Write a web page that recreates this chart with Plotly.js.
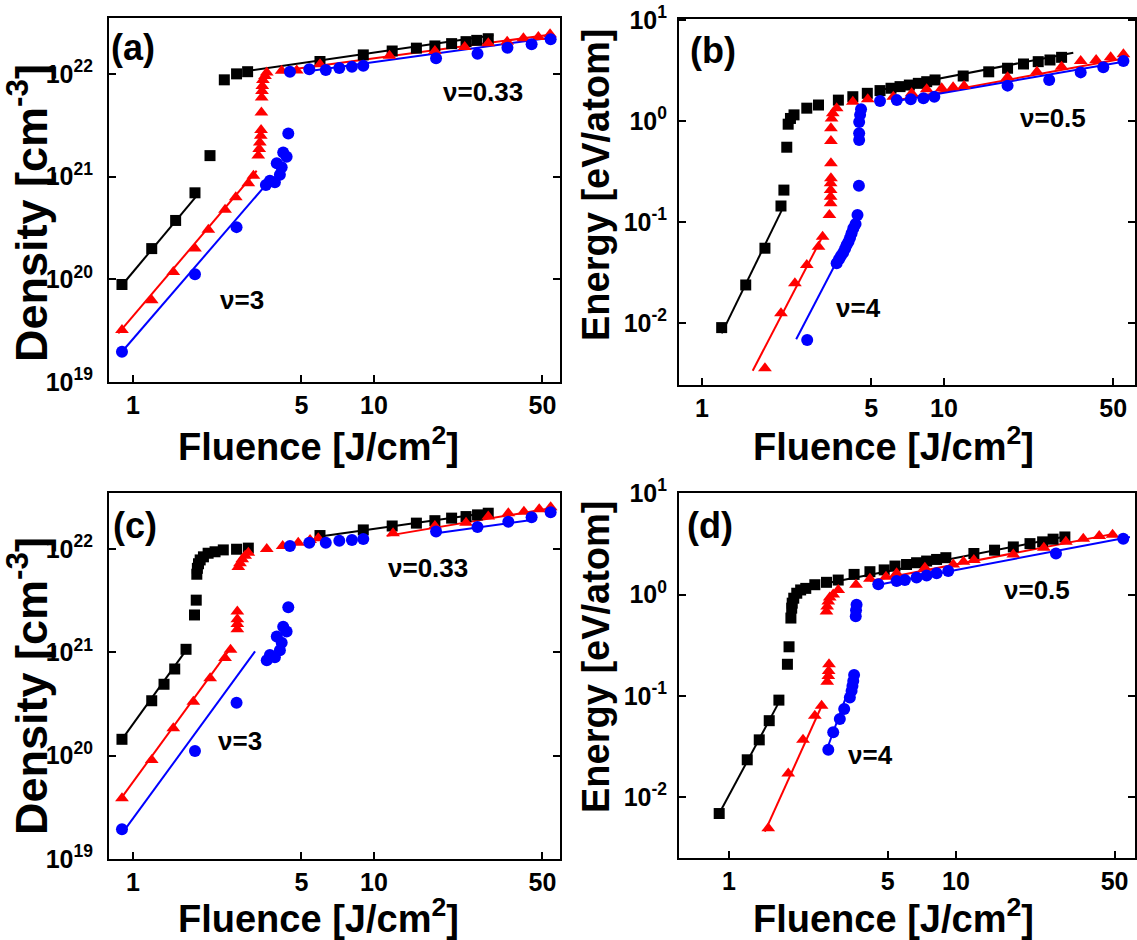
<!DOCTYPE html>
<html><head><meta charset="utf-8">
<script src="https://cdn.plot.ly/plotly-3.0.1.min.js"></script>
<style>html,body{margin:0;padding:0;background:#fff}#chart{width:1137px;height:940px}</style>
</head><body><div id="chart"></div>
<script>
// ---------- Panel (a): Density vs Fluence ----------
const aBlkX = [0.90, 1.196, 1.503, 1.808, 2.087, 2.393, 2.69, 2.99, 5.97, 9.03, 11.9, 15.0, 17.9, 21.0, 24.1, 26.7, 29.8];
const aBlkY = [8.9e19, 1.99e20, 3.74e20, 6.95e20, 1.6e21, 8.75e21, 1.0e22, 1.05e22, 1.32e22, 1.53e22, 1.67e22, 1.78e22, 1.87e22, 1.97e22, 2.06e22, 2.12e22, 2.2e22];
const aBlkFitLoX = [0.94, 1.878], aBlkFitLoY = [9.9e19, 6.9e20];
const aBlkFitHiX = [2.99, 31.3], aBlkFitHiY = [1.07e22, 2.38e22];
const aRedX = [0.90, 1.196, 1.47, 1.808, 2.054, 2.41, 2.67, 3.01, 3.16, 3.31, 3.34, 3.36, 3.39, 3.40, 3.41, 3.42, 3.43, 3.44, 3.46, 3.53, 3.59, 4.14, 4.78, 5.97, 11.6, 17.9, 23.8, 29.8, 35.7, 41.7, 48.1, 53.8];
const aRedY = [3.2e19, 6.25e19, 1.18e20, 1.99e20, 3.03e20, 4.75e20, 6.3e20, 8.6e20, 1.02e21, 1.6e21, 1.86e21, 2.15e21, 2.5e21, 2.84e21, 4.2e21, 5.9e21, 6.8e21, 7.6e21, 8.7e21, 9.55e21, 1.03e22, 1.07e22, 1.08e22, 1.24e22, 1.5e22, 1.67e22, 1.83e22, 1.99e22, 2.06e22, 2.22e22, 2.29e22, 2.43e22];
const aRedFitLoX = [0.869, 3.26], aRedFitLoY = [2.97e19, 1.14e21];
const aRedFitHiX = [4.14, 55.5], aRedFitHiY = [1.07e22, 2.43e22];
const aBluX = [0.90, 1.808, 2.69, 3.56, 3.70, 3.88, 4.07, 3.95, 4.14, 4.2, 4.34, 4.41, 4.48, 5.39, 6.31, 7.18, 8.1, 9.03, 18.1, 26.9, 35.8, 45.1, 54.1];
const aBluY = [1.97e19, 1.12e20, 3.22e20, 8.3e20, 9.1e20, 8.8e20, 1.04e21, 1.35e21, 1.23e21, 1.72e21, 1.56e21, 2.63e21, 1.05e22, 1.11e22, 1.09e22, 1.14e22, 1.17e22, 1.2e22, 1.42e22, 1.57e22, 1.8e22, 1.94e22, 2.17e22];
const aBluFitLoX = [0.90, 3.59], aBluFitLoY = [1.97e19, 8.5e20];
const aBluFitHiX = [5.6, 54.1], aBluFitHiY = [1.08e22, 2.25e22];

// ---------- Panel (b): Energy vs Fluence ----------
const bBlkX = [1.206, 1.516, 1.82, 2.12, 2.18, 2.24, 2.27, 2.32, 2.4, 2.71, 3.03, 3.66, 4.2, 4.82, 5.44, 6.04, 6.58, 7.19, 7.83, 8.48, 9.18, 12.0, 15.3, 18.3, 21.3, 24.5, 27.4, 30.6];
const bBlkY = [0.009, 0.0238, 0.055, 0.144, 0.207, 0.55, 0.93, 1.06, 1.15, 1.34, 1.44, 1.61, 1.74, 1.88, 2.0, 2.11, 2.19, 2.27, 2.36, 2.45, 2.55, 2.79, 3.07, 3.33, 3.67, 3.87, 4.02, 4.27];
const bBlkFitLoX = [1.206, 2.13], bBlkFitLoY = [0.0079, 0.129];
const bBlkFitHiX = [5.44, 34.2], bBlkFitHiY = [2.03, 4.74];
const bRedX = [1.82, 2.12, 2.42, 2.71, 3.03, 3.15, 3.36, 3.4, 3.4, 3.4, 3.4, 3.41, 3.41, 3.41, 3.41, 3.43, 3.47, 3.6, 4.2, 4.84, 6.17, 7.35, 8.48, 9.78, 10.9, 12.1, 18.3, 24.2, 30.6, 36.7, 42.5, 48.8, 55.1];
const bRedY = [0.00356, 0.0125, 0.0247, 0.0375, 0.057, 0.0715, 0.117, 0.153, 0.178, 0.207, 0.242, 0.271, 0.381, 0.634, 0.847, 1.06, 1.19, 1.34, 1.55, 1.64, 1.74, 1.88, 2.06, 2.11, 2.16, 2.22, 2.71, 3.08, 3.45, 3.93, 4.02, 4.27, 4.57];
const bRedFitLoX = [1.62, 3.17], bRedFitLoY = [0.00337, 0.0744];
const bRedFitHiX = [6.38, 56], bRedFitHiY = [1.61, 4.18];
const bBluX = [2.72, 3.6, 3.68, 3.75, 3.83, 3.9, 3.96, 4.03, 4.09, 4.15, 4.22, 4.31, 4.39, 4.45, 4.46, 4.46, 4.46, 4.5, 4.54, 5.44, 6.38, 7.29, 8.22, 9.12, 18.3, 27.2, 36.7, 45.5, 55.1];
const bBluY = [0.0068, 0.039, 0.0428, 0.046, 0.0497, 0.0544, 0.0592, 0.0638, 0.07, 0.0773, 0.0867, 0.0956, 0.117, 0.229, 0.648, 0.755, 0.98, 1.15, 1.31, 1.58, 1.61, 1.64, 1.68, 1.74, 2.24, 2.55, 3.03, 3.4, 3.93];
const bBluFitLoX = [2.45, 3.51], bBluFitLoY = [0.0069, 0.036];
const bBluFitHiX = [6.38, 55.1], bBluFitHiY = [1.58, 3.87];

// ---------- Panel (c): Density vs Fluence ----------
const cBlkX = [0.90, 1.196, 1.345, 1.49, 1.66, 1.80, 1.83, 1.84, 1.85, 1.87, 1.9, 1.96, 2.05, 2.19, 2.37, 2.69, 3.01, 5.97, 9.03, 11.9, 15.0, 17.9, 21.0, 24.1, 26.9, 29.8];
const cBlkY = [1.44e20, 3.4e20, 4.91e20, 6.9e20, 1.07e21, 2.3e21, 3.2e21, 5.7e21, 6.5e21, 7.2e21, 7.84e21, 8.4e21, 9.1e21, 9.4e21, 9.8e21, 9.95e21, 1.02e22, 1.35e22, 1.53e22, 1.67e22, 1.78e22, 1.88e22, 1.99e22, 2.06e22, 2.14e22, 2.22e22];
const cBlkFitLoX = [0.9, 1.70], cBlkFitLoY = [1.44e20, 1.13e21];
const cBlkFitHiX = [5.97, 30.3], cBlkFitHiY = [1.32e22, 2.25e22];
const cRedX = [0.9, 1.196, 1.47, 1.78, 2.09, 2.41, 2.54, 2.71, 2.71, 2.71, 2.71, 2.735, 2.78, 2.84, 2.92, 3.01, 3.59, 4.18, 4.85, 5.43, 5.87, 12.0, 17.9, 24.1, 29.8, 36.1, 41.9, 48.5, 54.1];
const cRedY = [3.87e19, 9.1e19, 1.84e20, 3.33e20, 5.6e20, 8.8e20, 1.06e21, 1.67e21, 1.88e21, 2.09e21, 2.48e21, 6.7e21, 7.3e21, 7.96e21, 8.6e21, 9.2e21, 1.0e22, 1.07e22, 1.15e22, 1.22e22, 1.27e22, 1.42e22, 1.67e22, 1.8e22, 2.06e22, 2.22e22, 2.3e22, 2.43e22, 2.54e22];
const cRedFitLoX = [0.883, 2.54], cRedFitLoY = [3.73e19, 1.1e21];
const cRedFitHiX = [11.3, 54.1], cRedFitHiY = [1.34e22, 2.48e22];
const cBluX = [0.9, 1.808, 2.69, 3.59, 3.70, 3.88, 4.07, 4.14, 3.95, 4.2, 4.34, 4.41, 4.48, 5.39, 6.31, 7.18, 8.1, 9.03, 18.1, 26.9, 36.1, 45.1, 54.1];
const cBluY = [1.94e19, 1.11e20, 3.26e20, 8.4e20, 9.4e20, 8.97e20, 1.05e21, 1.24e21, 1.42e21, 1.77e21, 1.59e21, 2.73e21, 1.07e22, 1.15e22, 1.15e22, 1.2e22, 1.22e22, 1.25e22, 1.48e22, 1.63e22, 1.84e22, 2.03e22, 2.27e22];
const cBluFitLoX = [0.912, 3.21], cBluFitLoY = [1.84e19, 1.02e21];
const cBluFitHiX = [18.1, 45.1], cBluFitHiY = [1.42e22, 1.91e22];

// ---------- Panel (d): Energy vs Fluence ----------
const dBlkX = [0.906, 1.204, 1.36, 1.505, 1.66, 1.81, 1.84, 1.875, 1.89, 1.9, 1.93, 1.99, 2.07, 2.18, 2.39, 2.69, 3.03, 3.56, 4.18, 4.83, 5.39, 6.06, 6.71, 7.43, 8.22, 9.03, 12.0, 14.8, 17.9, 21.2, 24.1, 26.8, 30.2];
const dBlkY = [0.0069, 0.0234, 0.0368, 0.0569, 0.0908, 0.205, 0.305, 0.586, 0.734, 0.822, 0.92, 1.03, 1.11, 1.15, 1.25, 1.32, 1.39, 1.58, 1.68, 1.75, 1.91, 1.98, 2.06, 2.14, 2.22, 2.31, 2.54, 2.74, 2.95, 3.18, 3.31, 3.52, 3.7];
const dBlkFitLoX = [0.906, 1.68], dBlkFitLoY = [0.0069, 0.0908];
const dBlkFitHiX = [2.69, 30.7], dBlkFitHiY = [1.29, 3.76];
const dRedX = [1.49, 1.825, 2.12, 2.39, 2.56, 2.71, 2.74, 2.75, 2.76, 2.69, 2.71, 2.74, 2.78, 2.88, 3.03, 3.63, 4.18, 4.92, 5.48, 7.3, 9.73, 10.8, 12.0, 17.9, 24.4, 30.5, 36.4, 42.8, 49];
const dRedY = [0.00493, 0.0171, 0.0368, 0.0637, 0.0798, 0.138, 0.157, 0.176, 0.205, 0.681, 0.762, 0.854, 0.934, 1.0, 1.11, 1.25, 1.43, 1.5, 1.62, 1.84, 1.98, 2.11, 2.19, 2.48, 2.89, 3.31, 3.56, 3.79, 3.9];
const dRedFitLoX = [1.44, 2.59], dRedFitLoY = [0.00457, 0.0841];
const dRedFitHiX = [4.18, 50.1], dRedFitHiY = [1.36, 3.99];
const dBluX = [2.74, 2.88, 3.08, 3.22, 3.41, 3.47, 3.5, 3.53, 3.56, 3.62, 3.63, 3.65, 4.55, 5.48, 5.96, 6.71, 7.43, 8.22, 9.25, 27.6, 54.6];
const dBluY = [0.0294, 0.0437, 0.0591, 0.0741, 0.0964, 0.112, 0.125, 0.14, 0.161, 0.609, 0.7, 0.792, 1.26, 1.36, 1.39, 1.47, 1.54, 1.62, 1.71, 2.54, 3.56];
const dBluFitLoX = [2.69, 3.56], dBluFitLoY = [0.0289, 0.161];
const dBluFitHiX = [4.55, 58.4], dBluFitHiY = [1.25, 3.7];

// ---------- Tick labels & texts ----------
const fluenceTicks = [1, 5, 10, 50];
const fluenceTickText = ['1', '5', '10', '50'];
const densityTicks = [1e19, 1e20, 1e21, 1e22];
const densityTickText = ['10<sup>19</sup>', '10<sup>20</sup>', '10<sup>21</sup>', '10<sup>22</sup>'];
const energyTicks = [0.01, 0.1, 1, 10];
const energyTickText = ['10<sup>-2</sup>', '10<sup>-1</sup>', '10<sup>0</sup>', '10<sup>1</sup>'];
const panelLabels = ['(a)', '(b)', '(c)', '(d)'];
const slopeLowLabels = ['\u03bd=3', '\u03bd=4', '\u03bd=3', '\u03bd=4'];
const slopeHighLabels = ['\u03bd=0.33', '\u03bd=0.5', '\u03bd=0.33', '\u03bd=0.5'];
const xTitle = 'Fluence [J/cm<sup>2</sup>]';
const densityTitle = 'Density [cm<sup>-3</sup>]';
const energyTitle = 'Energy [eV/atom]';

// ---------- Build ----------
const W = 1137, H = 940;
const FONT = 'Arial, "Liberation Sans", sans-serif';
const BLACK = '#000000', RED = '#ff0000', BLUE = '#0000ff';

function fitTrace(xa, ya, x, y, color) {
  return {type: 'scatter', mode: 'lines', x: x, y: y, xaxis: xa, yaxis: ya,
          line: {color: color, width: 2}, hoverinfo: 'skip', showlegend: false};
}
function markTrace(xa, ya, x, y, color, symbol, size) {
  return {type: 'scatter', mode: 'markers', x: x, y: y, xaxis: xa, yaxis: ya,
          marker: {color: color, symbol: symbol, size: size, line: {width: 0}}, showlegend: false};
}
function panelTraces(xa, ya, s) {
  return [
    fitTrace(xa, ya, s.kLoX, s.kLoY, BLACK), fitTrace(xa, ya, s.kHiX, s.kHiY, BLACK),
    fitTrace(xa, ya, s.rLoX, s.rLoY, RED), fitTrace(xa, ya, s.rHiX, s.rHiY, RED),
    fitTrace(xa, ya, s.bLoX, s.bLoY, BLUE), fitTrace(xa, ya, s.bHiX, s.bHiY, BLUE),
    markTrace(xa, ya, s.kX, s.kY, BLACK, 'square', 11),
    markTrace(xa, ya, s.rX, s.rY, RED, 'triangle-up', 12),
    markTrace(xa, ya, s.bX, s.bY, BLUE, 'circle', 12)
  ];
}
const data = [].concat(
  panelTraces('x', 'y', {kX: aBlkX, kY: aBlkY, kLoX: aBlkFitLoX, kLoY: aBlkFitLoY, kHiX: aBlkFitHiX, kHiY: aBlkFitHiY,
    rX: aRedX, rY: aRedY, rLoX: aRedFitLoX, rLoY: aRedFitLoY, rHiX: aRedFitHiX, rHiY: aRedFitHiY,
    bX: aBluX, bY: aBluY, bLoX: aBluFitLoX, bLoY: aBluFitLoY, bHiX: aBluFitHiX, bHiY: aBluFitHiY}),
  panelTraces('x2', 'y2', {kX: bBlkX, kY: bBlkY, kLoX: bBlkFitLoX, kLoY: bBlkFitLoY, kHiX: bBlkFitHiX, kHiY: bBlkFitHiY,
    rX: bRedX, rY: bRedY, rLoX: bRedFitLoX, rLoY: bRedFitLoY, rHiX: bRedFitHiX, rHiY: bRedFitHiY,
    bX: bBluX, bY: bBluY, bLoX: bBluFitLoX, bLoY: bBluFitLoY, bHiX: bBluFitHiX, bHiY: bBluFitHiY}),
  panelTraces('x3', 'y3', {kX: cBlkX, kY: cBlkY, kLoX: cBlkFitLoX, kLoY: cBlkFitLoY, kHiX: cBlkFitHiX, kHiY: cBlkFitHiY,
    rX: cRedX, rY: cRedY, rLoX: cRedFitLoX, rLoY: cRedFitLoY, rHiX: cRedFitHiX, rHiY: cRedFitHiY,
    bX: cBluX, bY: cBluY, bLoX: cBluFitLoX, bLoY: cBluFitLoY, bHiX: cBluFitHiX, bHiY: cBluFitHiY}),
  panelTraces('x4', 'y4', {kX: dBlkX, kY: dBlkY, kLoX: dBlkFitLoX, kLoY: dBlkFitLoY, kHiX: dBlkFitHiX, kHiY: dBlkFitHiY,
    rX: dRedX, rY: dRedY, rLoX: dRedFitLoX, rLoY: dRedFitLoY, rHiX: dRedFitHiX, rHiY: dRedFitHiY,
    bX: dBluX, bY: dBluY, bLoX: dBluFitLoX, bLoY: dBluFitLoY, bHiX: dBluFitHiX, bHiY: dBluFitHiY})
);

const tickFont = {family: FONT, size: 25, color: '#000', weight: 700};
function xAxis(domain, range, anchor) {
  return {type: 'log', domain: domain, range: range, anchor: anchor,
    tickvals: fluenceTicks, ticktext: fluenceTickText, ticks: 'inside', ticklen: 7, tickwidth: 2, tickcolor: '#000',
    showline: true, linewidth: 2, linecolor: '#000', mirror: true, showgrid: false, zeroline: false,
    tickfont: tickFont, ticklabelstandoff: 0, automargin: false, fixedrange: true};
}
function yAxis(domain, range, anchor, tv, tt, standoff) {
  return {type: 'log', domain: domain, range: range, anchor: anchor,
    tickvals: tv, ticktext: tt, ticks: 'inside', ticklen: 7, tickwidth: 2, tickcolor: '#000',
    showline: true, linewidth: 2, linecolor: '#000', mirror: 'ticks', showgrid: false, zeroline: false,
    tickfont: tickFont, ticklabelstandoff: standoff, automargin: false, fixedrange: true};
}
const xL = [109 / W, 560 / W], xR = [679 / W, 1135 / W];

function ann(text, px, py, size, angle) {
  return {text: text, x: px / W, y: 1 - py / H, xref: 'paper', yref: 'paper', xanchor: 'center', yanchor: 'middle',
    showarrow: false, textangle: angle || 0, font: {family: FONT, size: size, color: '#000', weight: 700}};
}
const annotations = [
  ann(panelLabels[0], 133, 47, 36), ann(panelLabels[1], 713, 50, 36),
  ann(panelLabels[2], 135, 525, 36), ann(panelLabels[3], 710, 525, 36),
  ann(slopeHighLabels[0], 483, 92, 26), ann(slopeLowLabels[0], 242, 300, 26),
  ann(slopeHighLabels[1], 1053, 118, 26), ann(slopeLowLabels[1], 858, 308, 26),
  ann(slopeHighLabels[2], 428, 568, 26), ann(slopeLowLabels[2], 240, 741, 26),
  ann(slopeHighLabels[3], 1037, 590, 26), ann(slopeLowLabels[3], 870, 755, 26),
  ann(xTitle, 318, 444, 38), ann(xTitle, 893, 444, 38),
  ann(xTitle, 318, 916, 38), ann(xTitle, 893, 916, 38),
  ann(densityTitle, 28, 213, 45, -90), ann(densityTitle, 28, 686, 45, -90),
  ann(energyTitle, 596, 185, 38, -90), ann(energyTitle, 596, 657, 38, -90)
];

const layout = {
  width: W, height: H, margin: {l: 0, r: 0, t: 0, b: 0},
  paper_bgcolor: '#fff', plot_bgcolor: '#fff', showlegend: false,
  font: {family: FONT, color: '#000'},
  xaxis: xAxis(xL, [-0.0996, 1.772], 'y'),
  yaxis: yAxis([1 - 382 / H, 1 - 18 / H], [19, 22.544], 'x', densityTicks, densityTickText, 9),
  xaxis2: xAxis(xR, [-0.095, 1.789], 'y2'),
  yaxis2: yAxis([1 - 385 / H, 1 - 19 / H], [-2.614, 1.01], 'x2', energyTicks, energyTickText, 5),
  xaxis3: xAxis(xL, [-0.0996, 1.772], 'y3'),
  yaxis3: yAxis([1 - 859 / H, 1 - 493 / H], [19, 22.542], 'x3', densityTicks, densityTickText, 9),
  xaxis4: xAxis(xR, [-0.22, 1.789], 'y4'),
  yaxis4: yAxis([1 - 858 / H, 1 - 493 / H], [-2.6, 1.002], 'x4', energyTicks, energyTickText, 5),
  annotations: annotations
};
Plotly.newPlot('chart', data, layout, {displayModeBar: false, staticPlot: true});
</script></body></html>
